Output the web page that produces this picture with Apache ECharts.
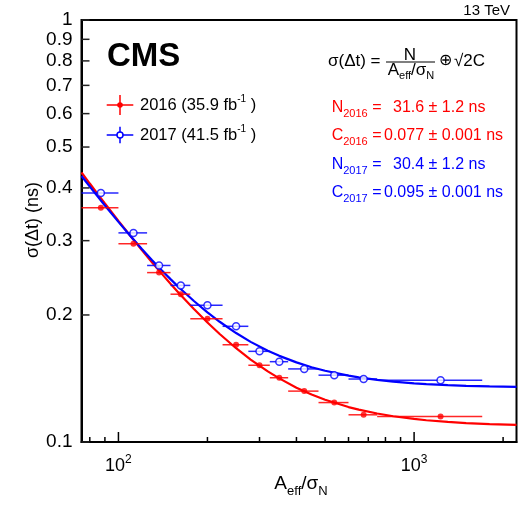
<!DOCTYPE html>
<html><head><meta charset="utf-8">
<script src="https://cdn.jsdelivr.net/npm/echarts@6/dist/echarts.min.js"></script>
<style>html,body{margin:0;padding:0;background:#fff}#c{width:523px;height:506px}</style>
</head><body><div id="c"></div>
<script>
// ---- data ----
const xCenters = [87.2, 112.4, 137.2, 162.5, 200, 250, 300, 350, 425, 537, 675, 1229];
const binLow   = [75, 100, 125, 150, 175, 225, 275, 325, 375, 475, 600, 750];
const binHigh  = [100, 125, 150, 175, 225, 275, 325, 375, 475, 600, 750, 1700];
const sigma2016 = [0.359, 0.295, 0.252, 0.224, 0.196, 0.170, 0.152, 0.142, 0.132, 0.124, 0.116, 0.115];
const sigma2017 = [0.389, 0.313, 0.262, 0.235, 0.211, 0.188, 0.164, 0.155, 0.149, 0.144, 0.141, 0.140];
// fitted curves
const fitX    = [75, 80, 85, 90, 100, 110, 120, 130, 140, 150, 160, 180, 200, 220, 250, 280, 320, 350, 400, 450, 500, 600, 650, 750, 850, 1000, 1100, 1300, 1500, 1800, 2220];
const fit2016 = [0.4352, 0.4097, 0.3874, 0.3676, 0.3342, 0.3072, 0.2850, 0.2664, 0.2506, 0.2372, 0.2255, 0.2066, 0.1919, 0.1803, 0.1668, 0.1568, 0.1470, 0.1415, 0.1345, 0.1296, 0.1259, 0.1210, 0.1193, 0.1168, 0.1151, 0.1134, 0.1126, 0.1116, 0.1109, 0.1103, 0.1098];
const fit2017 = [0.4270, 0.4031, 0.3820, 0.3635, 0.3324, 0.3073, 0.2868, 0.2697, 0.2553, 0.2432, 0.2327, 0.2158, 0.2029, 0.1927, 0.1812, 0.1727, 0.1645, 0.1600, 0.1544, 0.1504, 0.1475, 0.1436, 0.1423, 0.1403, 0.1390, 0.1377, 0.1372, 0.1364, 0.1359, 0.1354, 0.1351];
const yTicks = [0.1, 0.2, 0.3, 0.4, 0.5, 0.6, 0.7, 0.8, 0.9, 1];
const xMinorTicks = [80, 90, 200, 300, 400, 500, 600, 700, 800, 900, 2000];
const xMajorTicks = [100, 1000];
const xLabels = {100: '10{sup|2}', 1000: '10{sup|3}'};

const RED = '#ff0000', BLUE = '#0000ff';
const FONT = "'Liberation Sans', Arial, Helvetica, sans-serif";
const X_MIN = 75, X_MAX = 2220, Y_MIN = 0.1, Y_MAX = 1;
const TICK_MAJOR = 10, TICK_MINOR = 5, TICK_Y = 8;

function pts(xs, ys) { return xs.map((x, i) => [x, ys[i]]); }
function bars(ys) { return xCenters.map((x, i) => [x, ys[i], binLow[i], binHigh[i]]); }
function errRender(color) {
  return function (params, api) {
    const y = api.value(1);
    const p1 = api.coord([api.value(2), y]);
    const p2 = api.coord([api.value(3), y]);
    return {type: 'line', shape: {x1: p1[0], y1: p1[1], x2: p2[0], y2: p2[1]},
            style: {stroke: color, lineWidth: 1.5, opacity: 0.85}};
  };
}

const chart = echarts.init(document.getElementById('c'), null, {renderer: 'canvas'});
const subS = (fs, p) => ({fontSize: fs, fontFamily: FONT, padding: [p, 0, 0, 0]});
const supS = (fs, p) => ({fontSize: fs, fontFamily: FONT, padding: [0, 0, p, 0]});

const graphics = [
    {type: 'text', x: 510, y: 11, style: {text: '13 TeV', font: '15px ' + FONT, fill: '#000', align: 'right', verticalAlign: 'middle'}},
    {type: 'text', x: 107, y: 57, style: {text: 'CMS', font: 'bold 33px ' + FONT, fill: '#000', align: 'left', verticalAlign: 'middle'}},
    // legend
    {type: 'line', shape: {x1: 106.7, y1: 105, x2: 133.3, y2: 105}, style: {stroke: RED, lineWidth: 1.5}},
    {type: 'line', shape: {x1: 120, y1: 95, x2: 120, y2: 115}, style: {stroke: RED, lineWidth: 1.5}},
    {type: 'circle', shape: {cx: 120, cy: 105, r: 2.8}, style: {fill: RED}},
    {type: 'text', x: 140, y: 105, style: {text: '2016 (35.9 fb{sup|-1} )', font: '16.5px ' + FONT, fill: '#000', align: 'left', verticalAlign: 'middle', rich: {sup: supS(10, 12)}}},
    {type: 'line', shape: {x1: 106.7, y1: 135, x2: 133.3, y2: 135}, style: {stroke: BLUE, lineWidth: 1.5}},
    {type: 'line', shape: {x1: 120, y1: 126.7, x2: 120, y2: 143.3}, style: {stroke: BLUE, lineWidth: 1.5}},
    {type: 'circle', shape: {cx: 120, cy: 135, r: 3}, style: {fill: '#fff', stroke: BLUE, lineWidth: 1.5}},
    {type: 'text', x: 140, y: 135, style: {text: '2017 (41.5 fb{sup|-1} )', font: '16.5px ' + FONT, fill: '#000', align: 'left', verticalAlign: 'middle', rich: {sup: supS(10, 12)}}},
    // formula
    {type: 'text', x: 328, y: 61, style: {text: 'σ(Δt) =', font: '17px ' + FONT, fill: '#000', align: 'left', verticalAlign: 'middle'}},
    {type: 'text', x: 410, y: 55, style: {text: 'N', font: '17px ' + FONT, fill: '#000', align: 'center', verticalAlign: 'middle'}},
    {type: 'line', shape: {x1: 386, y1: 62, x2: 435, y2: 62}, style: {stroke: '#000', lineWidth: 1.2}},
    {type: 'text', x: 411, y: 70, style: {text: 'A{sub|eff}/σ{sub|N}', font: '17px ' + FONT, fill: '#000', align: 'center', verticalAlign: 'middle', rich: {sub: subS(11, 12)}}},
    {type: 'text', x: 445, y: 61, style: {text: '⊕', font: '16px ' + FONT, fill: '#000', align: 'center', verticalAlign: 'middle'}},
    {type: 'text', x: 454, y: 61, style: {text: '√2C', font: '17px ' + FONT, fill: '#000', align: 'left', verticalAlign: 'middle'}},
    // parameters
    {type: 'text', x: 331.7, y: 108, style: {text: 'N{sub|2016} =', font: '16px ' + FONT, fill: RED, align: 'left', verticalAlign: 'middle', rich: {sub: subS(11, 12)}}},
    {type: 'text', x: 393, y: 108, style: {text: '31.6 ± 1.2 ns', font: '16px ' + FONT, fill: RED, align: 'left', verticalAlign: 'middle'}},
    {type: 'text', x: 331.7, y: 136, style: {text: 'C{sub|2016} =', font: '16px ' + FONT, fill: RED, align: 'left', verticalAlign: 'middle', rich: {sub: subS(11, 12)}}},
    {type: 'text', x: 384, y: 136, style: {text: '0.077 ± 0.001 ns', font: '16px ' + FONT, fill: RED, align: 'left', verticalAlign: 'middle'}},
    {type: 'text', x: 331.7, y: 165, style: {text: 'N{sub|2017} =', font: '16px ' + FONT, fill: BLUE, align: 'left', verticalAlign: 'middle', rich: {sub: subS(11, 12)}}},
    {type: 'text', x: 393, y: 165, style: {text: '30.4 ± 1.2 ns', font: '16px ' + FONT, fill: BLUE, align: 'left', verticalAlign: 'middle'}},
    {type: 'text', x: 331.7, y: 193, style: {text: 'C{sub|2017} =', font: '16px ' + FONT, fill: BLUE, align: 'left', verticalAlign: 'middle', rich: {sub: subS(11, 12)}}},
    {type: 'text', x: 384, y: 193, style: {text: '0.095 ± 0.001 ns', font: '16px ' + FONT, fill: BLUE, align: 'left', verticalAlign: 'middle'}},
    // axis titles
    {type: 'text', x: 33, y: 220, rotation: Math.PI / 2, style: {text: 'σ(Δt) (ns)', font: '18px ' + FONT, fill: '#000', align: 'center', verticalAlign: 'middle'}},
    {type: 'text', x: 301, y: 484, style: {text: 'A{sub|eff}/σ{sub|N}', font: '19px ' + FONT, fill: '#000', align: 'center', verticalAlign: 'middle', rich: {sub: subS(13, 14)}}}
];

const option = {
  animation: false,
  backgroundColor: '#fff',
  grid: {left: 81.5, right: 6.5, top: 20, bottom: 64, show: true, borderColor: '#000', borderWidth: 2, backgroundColor: 'transparent'},
  xAxis: {type: 'log', min: X_MIN, max: X_MAX, position: 'bottom',
    axisLine: {show: true, lineStyle: {color: '#000', width: 2}}, splitLine: {show: false},
    axisTick: {show: false},
    axisLabel: {show: true, customValues: xMajorTicks, margin: 12, fontSize: 18, fontFamily: FONT, color: '#000',
      formatter: v => xLabels[Math.round(v)] || '',
      rich: {sup: supS(12, 12)}}},
  yAxis: {type: 'log', min: Y_MIN, max: Y_MAX, position: 'left',
    axisLine: {show: true, lineStyle: {color: '#000', width: 2}}, splitLine: {show: false},
    axisTick: {show: false},
    axisLabel: {show: true, customValues: yTicks, margin: 9, fontSize: 19, fontFamily: FONT, color: '#000',
      formatter: v => String(+v.toFixed(2))}},
  series: [
    {type: 'line', data: pts(fitX, fit2016), smooth: false, showSymbol: false,
     lineStyle: {color: RED, width: 2.2}, z: 2},
    {type: 'line', data: pts(fitX, fit2017), smooth: false, showSymbol: false,
     lineStyle: {color: BLUE, width: 2.2}, z: 3},
    {type: 'custom', data: bars(sigma2016), renderItem: errRender(RED), clip: true, z: 4,
     encode: {x: 0, y: 1}},
    {type: 'custom', data: bars(sigma2017), renderItem: errRender(BLUE), clip: true, z: 4,
     encode: {x: 0, y: 1}},
    {type: 'scatter', data: pts(xCenters, sigma2016), symbol: 'circle', symbolSize: 6,
     itemStyle: {color: RED}, z: 5},
    {type: 'scatter', data: pts(xCenters, sigma2017), symbol: 'circle', symbolSize: 7,
     itemStyle: {color: '#fff', borderColor: BLUE, borderWidth: 1.5}, z: 5}
  ],
  graphic: graphics
};
chart.setOption(option);

// axis ticks, positioned through the chart's own log scales
const ok = p => Array.isArray(p) && isFinite(p[0]) && isFinite(p[1]);
function toPx(x, y) {
  let p = null;
  try { p = chart.convertToPixel({gridIndex: 0}, [x, y]); } catch (e) {}
  if (!ok(p)) { try { p = chart.convertToPixel({seriesIndex: 4}, [x, y]); } catch (e) {} }
  return ok(p) ? p : null;
}
const tickEls = [];
function addX(v, len) { const p = toPx(v, Y_MIN); if (p)
  tickEls.push({type: 'line', z: 50, shape: {x1: p[0], y1: p[1], x2: p[0], y2: p[1] - len}, style: {stroke: '#000', lineWidth: 1.5}}); }
xMinorTicks.forEach(v => addX(v, TICK_MINOR));
xMajorTicks.forEach(v => addX(v, TICK_MAJOR));
yTicks.forEach(v => { const p = toPx(X_MIN, v); if (p)
  tickEls.push({type: 'line', z: 50, shape: {x1: p[0], y1: p[1], x2: p[0] + TICK_Y, y2: p[1]}, style: {stroke: '#222', lineWidth: 1.5}}); });
chart.setOption({graphic: graphics.concat(tickEls)});
</script>
</body></html>
